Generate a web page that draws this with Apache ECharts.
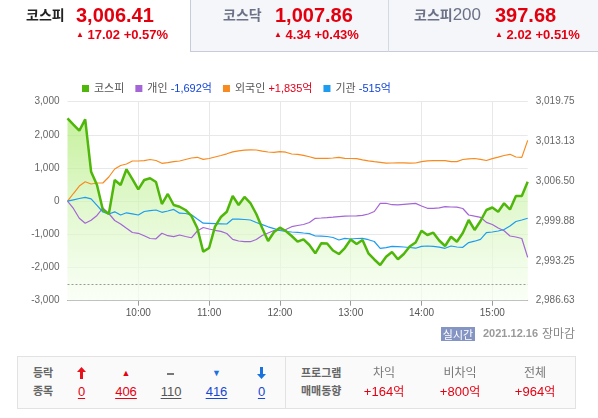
<!DOCTYPE html>
<html>
<head>
<meta charset="utf-8">
<script src="https://cdn.jsdelivr.net/npm/echarts@6/dist/echarts.min.js"></script>
<style>
  html, body { margin: 0; padding: 0; background: #fff; }
  body { width: 598px; height: 418px; position: relative; overflow: hidden;
         font-family: "Liberation Sans", "Noto Sans CJK KR", sans-serif; }
  #chart { position: absolute; left: 0; top: 0; width: 598px; height: 418px; }
  .t { position: absolute; white-space: nowrap; line-height: 1; z-index: 2; }
  .c { transform: translateX(-50%); }
  .kr { font-family: "Noto Sans CJK KR", sans-serif; }
  .tab { position: absolute; top: -1px; height: 53px; box-sizing: border-box; background: #f5f6fa;
         border-bottom: 1px solid #c8ccd8; z-index: 1; }
  .red { color: #e2000f; }
  .up { color: #e50012; }
  .box { position: absolute; left: 17px; top: 356px; width: 559px; height: 53px; box-sizing: border-box;
         background: #fafafa; border: 1px solid #e2e2e2; z-index: 1; }
  .u { text-decoration: underline; text-underline-offset: 2px; }
</style>
</head>
<body>
<div id="chart"></div>

<!-- 상단 지수 탭 -->
<div class="tab" style="left:190px;width:199px;border-left:1px solid #c8ccd8;"></div>
<div class="tab" style="left:388px;width:212px;border-left:1px solid #d6d9e2;"></div>

<span class="t kr" style="left:26px;top:7px;font-size:14px;font-weight:bold;color:#222;">코스피</span>
<span class="t red" style="left:76px;top:5px;font-size:20px;font-weight:bold;">3,006.41</span>
<span class="t up" style="left:76px;top:28px;font-size:13px;font-weight:bold;"><span style="font-size:8px;vertical-align:2px;">▲</span> 17.02 +0.57%</span>

<span class="t kr" style="left:223px;top:7px;font-size:14px;font-weight:bold;color:#6b7186;">코스닥</span>
<span class="t red" style="left:275px;top:5px;font-size:20px;font-weight:bold;">1,007.86</span>
<span class="t up" style="left:274px;top:28px;font-size:13px;font-weight:bold;"><span style="font-size:8px;vertical-align:2px;">▲</span> 4.34 +0.43%</span>

<span class="t" style="left:414px;top:6px;font-size:17px;color:#6b7186;"><span class="kr" style="font-size:14px;font-weight:bold;">코스피</span>200</span>
<span class="t red" style="left:495px;top:5px;font-size:20px;font-weight:bold;">397.68</span>
<span class="t up" style="left:495px;top:28px;font-size:13px;font-weight:bold;"><span style="font-size:8px;vertical-align:2px;">▲</span> 2.02 +0.51%</span>

<!-- 실시간 표시 -->
<span class="t kr" style="left:441px;top:327px;width:34px;height:14px;line-height:14px;text-align:center;background:#8494c3;color:#fff;font-size:11px;">실시간</span>
<span class="t" style="left:483px;top:328px;font-size:11px;font-weight:bold;color:#9a9a9a;">2021.12.16</span>
<span class="t kr" style="left:542px;top:327px;font-size:12px;color:#888;">장마감</span>

<!-- 등락종목 / 프로그램 매매동향 -->
<div class="box"></div>
<div style="position:absolute;left:285px;top:357px;width:1px;height:51px;background:#e2e2e2;z-index:2;"></div>

<span class="t kr" style="left:33px;top:367px;font-size:11px;font-weight:bold;color:#666;">등락</span>
<span class="t kr" style="left:33px;top:385px;font-size:11px;font-weight:bold;color:#666;">종목</span>

<svg class="t" style="left:77px;top:367px;" width="9" height="12" viewBox="0 0 9 12"><polygon points="4.5,0 9,5 6,5 6,12 3,12 3,5 0,5" fill="#e8101a"/></svg>
<span class="t c u" style="left:81.5px;top:385px;font-size:13px;color:#e50012;">0</span>

<span class="t c" style="left:126px;top:369px;font-size:9px;color:#e50012;">▲</span>
<span class="t c u" style="left:126px;top:385px;font-size:13px;color:#e50012;">406</span>

<div style="position:absolute;left:167px;top:373px;width:7px;height:2px;background:#777;z-index:2;"></div>
<span class="t c u" style="left:171px;top:385px;font-size:13px;color:#555;">110</span>

<span class="t c" style="left:216.5px;top:369px;font-size:9px;color:#1e6fe0;">▼</span>
<span class="t c u" style="left:216.5px;top:385px;font-size:13px;color:#1747d4;">416</span>

<svg class="t" style="left:257px;top:367px;" width="9" height="12" viewBox="0 0 9 12"><polygon points="4.5,12 9,7 6,7 6,0 3,0 3,7 0,7" fill="#1a72e0"/></svg>
<span class="t c u" style="left:261.5px;top:385px;font-size:13px;color:#1747d4;">0</span>

<span class="t kr" style="left:301px;top:367px;font-size:11px;font-weight:bold;color:#666;">프로그램</span>
<span class="t kr" style="left:301px;top:385px;font-size:11px;font-weight:bold;color:#666;">매매동향</span>

<span class="t c kr" style="left:384px;top:366px;font-size:12px;color:#777;">차익</span>
<span class="t c" style="left:384px;top:385px;font-size:13px;color:#e50012;">+164<span class="kr" style="font-size:12px;">억</span></span>
<span class="t c kr" style="left:460px;top:366px;font-size:12px;color:#777;">비차익</span>
<span class="t c" style="left:460px;top:385px;font-size:13px;color:#e50012;">+800<span class="kr" style="font-size:12px;">억</span></span>
<span class="t c kr" style="left:535px;top:366px;font-size:12px;color:#777;">전체</span>
<span class="t c" style="left:535px;top:385px;font-size:13px;color:#e50012;">+964<span class="kr" style="font-size:12px;">억</span></span>

<script>
  // 5분 간격 시간축 (09:00 ~ 15:30)
  var times = []
  for (var h = 9; h <= 15; h++) {
    for (var m = 0; m < 60; m += 5) {
      if (h === 15 && m > 30) break
      times.push((h < 10 ? "0" + h : "" + h) + ":" + (m < 10 ? "0" + m : "" + m))
    }
  }

  // 코스피 지수 (오른쪽 축)
  var kospi = [
    3016.99, 3015.95, 3014.92, 3016.82, 3008.10, 3005.89, 3001.73, 3001.06, 3006.72, 3005.89,
    3008.50, 3006.88, 3005.17, 3006.72, 3007.00, 3006.39, 3002.72, 3004.39, 3002.56, 3002.27,
    3001.73, 3000.73, 2998.73, 2994.79, 2995.40, 2998.95, 3000.56, 3001.44, 3004.06, 3002.56,
    3003.89, 3002.89, 3001.06, 2998.73, 2996.57, 2998.06, 2998.78, 2998.23, 2997.40, 2996.45,
    2996.85, 2995.90, 2994.52, 2996.18, 2996.15, 2994.98, 2994.40, 2995.40, 2996.82, 2996.07,
    2996.73, 2994.52, 2993.49, 2992.57, 2993.95, 2994.74, 2993.52, 2994.40, 2995.65, 2996.32,
    2998.28, 2997.56, 2997.95, 2996.65, 2995.73, 2997.28, 2996.45, 2997.90, 3000.06, 2998.40,
    2999.89, 3001.73, 3002.14, 3001.44, 3002.84, 3001.81, 3004.06, 3004.06, 3006.41
  ]
  var prevClose = 2989.39

  // 투자자별 순매수 (억원, 왼쪽 축)
  var individual = [
    0, -220, -516, -666, -576, -431, -205, -371, -582, -687,
    -817, -944, -968, -1043, -1125, -1134, -968, -1040, -1067, -1019,
    -1064, -1103, -898, -793, -838, -877, -908, -974, -1149, -1200,
    -1218, -1221, -1155, -1034, -959, -883, -874, -853, -769, -733,
    -702, -642, -516, -507, -497, -482, -464, -449, -446, -440,
    -425, -386, -311, -63, -63, -106, -109, -93, -78, -66,
    -145, -214, -214, -199, -166, -175, -181, -220, -416, -452,
    -485, -639, -702, -808, -892, -1049, -1079, -1125, -1692
  ]
  var foreign = [
    0, 232, 458, 588, 519, 549, 549, 730, 971, 1076,
    1122, 1212, 1212, 1221, 1257, 1227, 1143, 1161, 1191, 1212,
    1257, 1302, 1324, 1263, 1287, 1333, 1378, 1429, 1489, 1520,
    1538, 1550, 1544, 1508, 1483, 1474, 1492, 1477, 1423, 1414,
    1384, 1339, 1293, 1293, 1293, 1302, 1324, 1293, 1287, 1281,
    1248, 1218, 1194, 1173, 1146, 1152, 1158, 1158, 1146, 1152,
    1191, 1218, 1221, 1221, 1221, 1194, 1194, 1257, 1278, 1287,
    1260, 1227, 1284, 1327, 1378, 1414, 1333, 1320, 1835
  ]
  var institution = [
    0, 42, 81, 115, 72, -124, -326, -386, -320, -416,
    -350, -380, -416, -311, -286, -265, -335, -295, -247, -362,
    -371, -410, -537, -663, -669, -675, -681, -687, -537, -543,
    -552, -567, -642, -706, -772, -826, -883, -914, -929, -938,
    -959, -977, -1049, -1055, -1064, -1094, -1170, -1119, -1140, -1125,
    -1119, -1161, -1215, -1420, -1402, -1360, -1369, -1381, -1396, -1417,
    -1360, -1351, -1363, -1384, -1420, -1351, -1381, -1390, -1248, -1206,
    -1149, -950, -929, -898, -853, -748, -612, -567, -515
  ]

  var legendNames = ["코스피", "개인", "외국인", "기관"]
  var netBuy = [null, -1692, 1835, -515]
  var rightTicks = [2986.63, 2993.25, 2999.88, 3006.50, 3013.13, 3019.75]

  var font = "'Liberation Sans', 'Noto Sans CJK KR', sans-serif"
  var chart = echarts.init(document.getElementById("chart"))

  function fmtNet(v) {
    return (v > 0 ? "+" : "-") + Math.abs(v).toLocaleString("en-US") + "억"
  }

  function isHour(i, v) {
    return v.slice(3) === "00" && v !== "09:00"
  }

  var option = {
    animation: false,
    textStyle: { fontFamily: font },
    legend: {
      data: legendNames,
      left: 77,
      top: 78,
      icon: "rect",
      itemWidth: 7,
      itemHeight: 7,
      itemGap: 11,
      formatter: function (name) {
        var v = netBuy[legendNames.indexOf(name)]
        if (v === null) return "{n|" + name + "}"
        return "{n|" + name + "} {" + (v > 0 ? "p" : "m") + "|" + fmtNet(v) + "}"
      },
      textStyle: {
        fontSize: 11,
        rich: {
          n: { color: "#555", fontSize: 11, fontFamily: font },
          p: { color: "#e2001b", fontSize: 11, fontFamily: font },
          m: { color: "#1244d6", fontSize: 11, fontFamily: font }
        }
      }
    },
    grid: { left: 67.5, right: 70.3, top: 101.7, bottom: 117.3 },
    xAxis: {
      type: "category",
      data: times,
      boundaryGap: false,
      axisLine: { onZero: false, lineStyle: { color: "#9a9a9a" } },
      axisTick: { length: 5, lineStyle: { color: "#9a9a9a" }, interval: isHour },
      axisLabel: { color: "#555", fontSize: 10, margin: 8, interval: isHour },
      splitLine: { show: true, lineStyle: { color: "#e8e8e8" }, interval: isHour }
    },
    yAxis: [
      {
        type: "value",
        min: -3000,
        max: 3000,
        interval: 1000,
        axisLine: { show: false },
        axisTick: { show: false },
        axisLabel: {
          color: "#666",
          fontSize: 10,
          margin: 8,
          formatter: function (v) { return v.toLocaleString("en-US") }
        },
        splitLine: { lineStyle: { color: "#e8e8e8" } }
      },
      {
        type: "value",
        min: rightTicks[0],
        max: rightTicks[rightTicks.length - 1],
        axisLine: { show: false },
        axisTick: { show: false },
        splitLine: { show: false },
        axisLabel: {
          customValues: rightTicks,
          color: "#666",
          fontSize: 10,
          margin: 8,
          formatter: function (v) {
            return v.toLocaleString("en-US", { minimumFractionDigits: 2, maximumFractionDigits: 2 })
          }
        }
      }
    ],
    series: [
      {
        name: "코스피영역",
        type: "line",
        yAxisIndex: 1,
        data: kospi,
        symbol: "none",
        silent: true,
        z: 1,
        lineStyle: { width: 0, opacity: 0 },
        areaStyle: {
          origin: "start",
          color: new echarts.graphic.LinearGradient(0, 0, 0, 1, [
            { offset: 0, color: "#aeea74" },
            { offset: 0.5, color: "#d5f5bb" },
            { offset: 1, color: "#f8fef3" }
          ])
        },
        markLine: {
          silent: true,
          symbol: "none",
          label: { show: false },
          lineStyle: { type: [2, 2], color: "#9a9a9a", width: 1 },
          data: [{ yAxis: prevClose }]
        }
      },
      {
        name: "개인",
        type: "line",
        data: individual,
        symbol: "none",
        z: 2,
        color: "#a465d6",
        lineStyle: { width: 1.2 }
      },
      {
        name: "외국인",
        type: "line",
        data: foreign,
        symbol: "none",
        z: 2,
        color: "#f78b1f",
        lineStyle: { width: 1.2 }
      },
      {
        name: "기관",
        type: "line",
        data: institution,
        symbol: "none",
        z: 2,
        color: "#1d9cf0",
        lineStyle: { width: 1.2 }
      },
      {
        name: "코스피",
        type: "line",
        yAxisIndex: 1,
        data: kospi,
        symbol: "none",
        z: 3,
        color: "#4fb60a",
        lineStyle: { width: 2.5 }
      }
    ]
  }
  chart.setOption(option)
</script>
</body>
</html>
